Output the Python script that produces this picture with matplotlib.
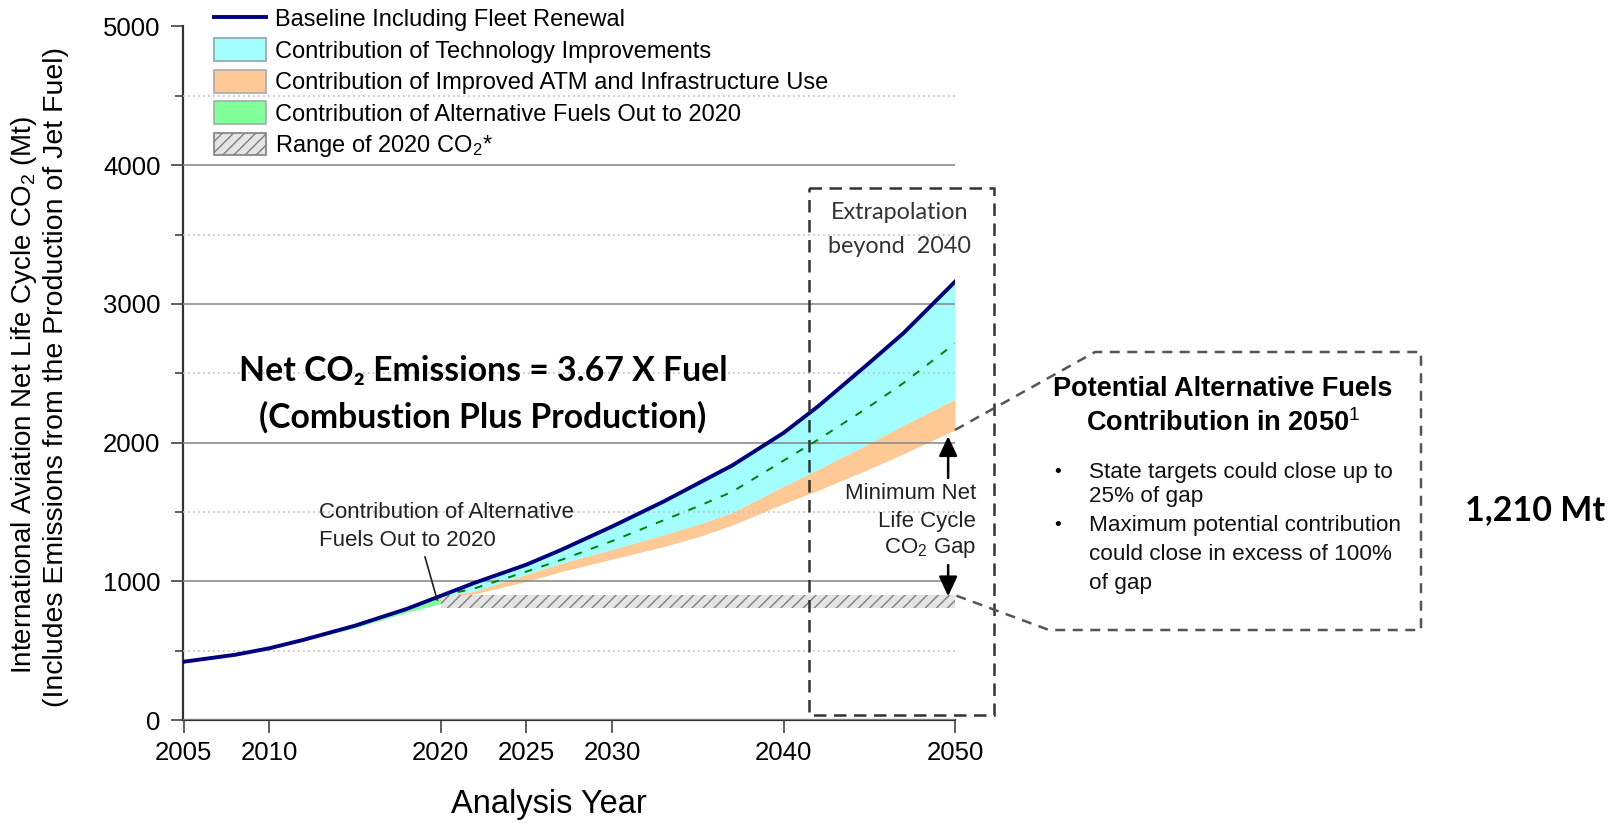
import matplotlib
matplotlib.use("Agg")
import matplotlib.pyplot as plt
from matplotlib.lines import Line2D
from matplotlib.patches import Patch, Rectangle, Polygon
from matplotlib.ticker import MultipleLocator

plt.rcParams["font.family"] = ["Liberation Sans", "DejaVu Sans"]
plt.rcParams["mathtext.fontset"] = "custom"
plt.rcParams["mathtext.rm"] = "Liberation Sans"
plt.rcParams["mathtext.it"] = "Liberation Sans:italic"
plt.rcParams["mathtext.bf"] = "Liberation Sans:bold"
plt.rcParams["hatch.linewidth"] = 1.0

W, H = 1615, 823

# Baseline CO2 with fleet renewal (Mt)
years = [2005, 2008, 2010, 2012, 2015, 2018, 2020, 2022, 2025, 2027, 2030,
         2033, 2035, 2037, 2040, 2042, 2045, 2047, 2050]
baseline = [420, 470, 517, 578, 680, 800, 895, 990, 1120, 1225, 1395,
            1575, 1705, 1835, 2070, 2260, 2575, 2790, 3160]

# alternative fuels out to 2020: lower edge of the green band
years_af = [2010, 2012, 2015, 2018, 2020]
alt_low = [517, 570, 664, 775, 840]

# post-2020 scenario edges
years_f = [2020, 2022, 2025, 2027, 2030, 2033, 2035, 2037, 2040, 2042, 2045, 2047, 2050]
tech_mid = [895, 950, 1070, 1153, 1290, 1440, 1540, 1645, 1870, 2020, 2260, 2430, 2715]
tech_low = [890, 930, 1050, 1129, 1230, 1335, 1410, 1495, 1685, 1805, 1995, 2125, 2313]
atm_low = [885, 910, 1000, 1069, 1160, 1250, 1320, 1405, 1560, 1655, 1810, 1920, 2091]

# range of 2020 CO2
range_years = [2020, 2050]
range_lo = 810
range_hi = 900

gap_tail_up = 1745
gap_tail_down = 1117

xticks = [2005, 2010, 2020, 2025, 2030, 2040, 2050]

c_navy = "#000080"
c_cyan = "#A3FFFF"
c_orange = "#FFC996"
c_green = "#80FF9A"

fig = plt.figure(figsize=(W / 100, H / 100), dpi=100)
ax = fig.add_axes([183.5 / W, (H - 720) / H, (955 - 183.5) / W, (720 - 26.5) / H])

base_f = [b for y, b in zip(years, baseline) if y >= 2020]
base_af = [b for y, b in zip(years, baseline) if 2010 <= y <= 2020]

ax.fill_between(years_f, tech_low, base_f, color=c_cyan, lw=0, zorder=1)
ax.fill_between(years_f, atm_low, tech_low, color=c_orange, lw=0, zorder=1)
ax.fill_between(years_af, alt_low, base_af, color=c_green, lw=0, zorder=1)
ax.fill_between(range_years, [range_lo] * 2, [range_hi] * 2, facecolor="#e4e4e4",
                edgecolor="#808080", hatch="///", lw=0, zorder=1)
ax.plot(years_f, tech_mid, color="#008000", lw=1.4, ls=(0, (4, 5)), zorder=3)
ax.plot(years, baseline, color=c_navy, lw=2.8, zorder=4)

ax.set_xlim(2005, 2050)
ax.set_ylim(0, 5000)
ax.set_xticks(xticks)
ax.yaxis.set_major_locator(MultipleLocator(1000))
ax.yaxis.set_minor_locator(MultipleLocator(500))
ax.set_axisbelow(False)
ax.yaxis.grid(True, which="major", color="#8c8c8c", lw=1.2, ls="-")
ax.yaxis.grid(True, which="minor", color="#c0c0c0", lw=1.2, ls=(0, (1, 2)))
for s in ["top", "right"]:
    ax.spines[s].set_visible(False)
for s in ["left", "bottom"]:
    ax.spines[s].set_color("#333333")
    ax.spines[s].set_linewidth(1.6)
ax.tick_params(axis="y", which="major", length=8.6, width=1.1, color="#333333",
               labelsize=18.5, pad=8)
ax.tick_params(axis="y", which="minor", length=5.8, width=1.1, color="#333333")
ax.tick_params(axis="x", which="major", length=9.4, width=1.1, color="#333333",
               labelsize=18.5, pad=6)

# overlay in figure pixels for the annotations
ov = fig.add_axes([0, 0, 1, 1], zorder=5)
ov.set_xlim(0, W)
ov.set_ylim(H, 0)
ov.axis("off")


def to_px(x, y):
    dx, dy = ax.transData.transform((x, y))
    return dx, H - dy


# legend
handles = [
    Line2D([], [], color=c_navy, lw=2.8),
    Patch(facecolor=c_cyan, edgecolor="#8aa", lw=1.2),
    Patch(facecolor=c_orange, edgecolor="#aaa", lw=1.2),
    Patch(facecolor=c_green, edgecolor="#aaa", lw=1.2),
    Patch(facecolor="#e4e4e4", edgecolor="#808080", hatch="///", lw=1.2),
]
labels = [
    "Baseline Including Fleet Renewal",
    "Contribution of Technology Improvements",
    "Contribution of Improved ATM and Infrastructure Use",
    "Contribution of Alternative Fuels Out to 2020",
    "Range of 2020 CO$_2$*",
]
fig.legend(handles, labels, loc="upper left", bbox_to_anchor=(214 / W, 1 - 7 / H),
           frameon=False, fontsize=17, borderpad=0, borderaxespad=0,
           handlelength=2.2, handleheight=1.1, handletextpad=0.4, labelspacing=0.3)

# axis labels
fig.text(24 / W, 1 - 395 / H, "International Aviation Net Life Cycle CO$_2$ (Mt)",
         rotation=90, ha="center", va="center", fontsize=20)
fig.text(56 / W, 1 - 377 / H, "(Includes Emissions from the Production of Jet Fuel)",
         rotation=90, ha="center", va="center", fontsize=20.5)
fig.text(549 / W, 1 - 804 / H, "Analysis Year", ha="center", va="center", fontsize=23.5)

# big statement
bold_fam = ["Lato", "DejaVu Sans"]
ov.text(483, 371, "Net CO\u2082 Emissions = 3.67 X Fuel", ha="center", va="center",
        fontsize=24.3, fontweight="bold", family=bold_fam)
ov.text(483, 417, "(Combustion Plus Production)", ha="center", va="center",
        fontsize=24.3, fontweight="bold", family=bold_fam)

# alternative fuels pointer
ov.text(319, 512, "Contribution of Alternative", ha="left", va="center", fontsize=16,
        color="#222222")
ov.text(319, 541, "Fuels Out to 2020", ha="left", va="center", fontsize=16,
        color="#222222")
px, py = to_px(2019.8, 865)
ov.plot([425, px], [557, py], color="#222222", lw=1.2)

# extrapolation box
ov.add_patch(Rectangle((809, 188), 994 - 809, 715 - 188, fill=False, ec="#333333",
                       lw=1.8, ls=(0, (5, 3))))
ov.text(900, 212, "Extrapolation", ha="center", va="center", fontsize=16.8,
        color="#333333", family=bold_fam)
ov.text(900, 246, "beyond  2040", ha="center", va="center", fontsize=16.8,
        color="#333333", family=bold_fam)

# gap arrows
arrow_kw = dict(arrowstyle="-|>,head_length=0.6,head_width=0.28", color="black",
                lw=1.8, mutation_scale=20, shrinkA=0, shrinkB=0)
ax.annotate("", xy=(2049.6, atm_low[-1] - 45), xytext=(2049.6, gap_tail_up),
            arrowprops=arrow_kw, zorder=6)
ax.annotate("", xy=(2049.6, range_hi - 8), xytext=(2049.6, gap_tail_down),
            arrowprops=arrow_kw, zorder=6)
ov.text(976, 493, "Minimum Net", ha="right", va="center", fontsize=16, color="#222222")
ov.text(976, 521, "Life Cycle", ha="right", va="center", fontsize=16, color="#222222")
ov.text(976, 548, "CO$_2$ Gap", ha="right", va="center", fontsize=16, color="#222222")

# callout
p_top = to_px(2050, atm_low[-1])
p_bot = to_px(2050, range_hi)
ov.add_patch(Polygon([p_top, (1095, 352), (1421, 352), (1421, 630), (1049, 630), p_bot],
                     closed=False, fill=False, ec="#555555", lw=1.8, ls=(0, (4, 3))))
ov.text(1223, 389, "Potential Alternative Fuels", ha="center", va="center",
        fontsize=19.5, fontweight="bold")
ov.text(1223, 423, "Contribution in 2050$^{\\mathrm{1}}$", ha="center", va="center",
        fontsize=19.5, fontweight="bold")
bullets = [
    (472, True, "State targets could close up to"),
    (496, False, "25% of gap"),
    (526, True, "Maximum potential contribution"),
    (555, False, "could close in excess of 100%"),
    (584, False, "of gap"),
]
for y, dot, txt in bullets:
    if dot:
        ov.text(1058, y, "\u2022", ha="center", va="center", fontsize=14)
    ov.text(1089, y, txt, ha="left", va="center", fontsize=16.2, color="#111111")

ov.text(1535, 510, "1,210 Mt", ha="center", va="center", fontsize=24.5,
        fontweight="bold", family=bold_fam)

fig.savefig("out.png", dpi=100, facecolor="white")
